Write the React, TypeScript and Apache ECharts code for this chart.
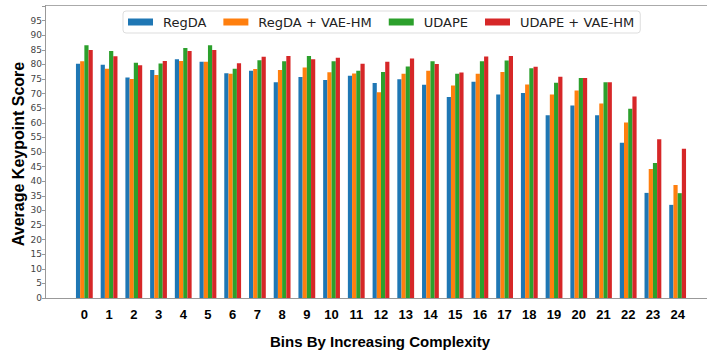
import React, { useEffect, useRef } from "react";
import * as echarts from "echarts";

const categories = ["0","1","2","3","4","5","6","7","8","9","10","11","12","13","14","15","16","17","18","19","20","21","22","23","24"];
const seriesNames = ["RegDA", "RegDA + VAE-HM", "UDAPE", "UDAPE + VAE-HM"];
const regda = [80.2, 79.9, 75.5, 78.1, 81.8, 80.9, 77.0, 77.8, 73.9, 75.7, 74.7, 76.1, 73.6, 74.9, 73.0, 68.8, 74.1, 69.7, 70.2, 62.6, 65.9, 62.6, 53.2, 36.0, 31.9];
const regdaVae = [81.1, 78.5, 75.0, 76.4, 81.2, 80.9, 76.8, 78.4, 78.1, 78.9, 77.3, 76.9, 70.5, 76.8, 77.8, 72.8, 76.8, 77.4, 73.1, 69.7, 71.1, 66.6, 60.1, 44.2, 38.7];
const udape = [86.6, 84.6, 80.6, 80.3, 85.6, 86.6, 78.5, 81.4, 81.1, 82.9, 81.1, 77.8, 77.4, 79.3, 81.1, 76.8, 81.1, 81.3, 78.7, 73.7, 75.3, 73.9, 64.8, 46.2, 35.9];
const udapeVae = [84.9, 82.8, 79.7, 81.2, 84.6, 84.9, 80.4, 82.6, 82.9, 81.8, 82.3, 80.2, 80.9, 82.0, 80.1, 77.2, 82.7, 82.9, 79.2, 75.8, 75.3, 73.9, 69.0, 54.4, 51.1];
const colors = ["#1f77b4", "#ff7f0e", "#2ca02c", "#d62728"];

export default function App() {
  const ref = useRef<HTMLDivElement>(null);
  useEffect(() => {
    document.body.style.margin = "0";
    const chart = echarts.init(ref.current!, null, { renderer: "svg" });
    const values = [regda, regdaVae, udape, udapeVae];
    chart.setOption({
      animation: false,
      backgroundColor: "#fff",
      color: colors,
      grid: { left: 72, right: 17, top: 6, bottom: 52 },
      legend: {
        data: seriesNames,
        left: 123,
        top: 11,
        icon: "rect",
        itemWidth: 25,
        itemHeight: 7,
        itemGap: 17,
        borderColor: "#dddddd",
        borderWidth: 1,
        borderRadius: 3,
        padding: [4, 6, 4, 5],
        textStyle: { fontFamily: "DejaVu Sans", fontSize: 13, color: "#222", padding: [0, 0, 0, 5], lineHeight: 14 },
      },
      xAxis: {
        type: "category",
        data: categories,
        axisLine: { show: false },
        axisTick: { show: false },
        axisLabel: { fontFamily: "Liberation Sans", fontWeight: "bold", fontSize: 13, color: "#000", margin: 10 },
      },
      yAxis: {
        type: "value",
        min: 0,
        max: 100,
        interval: 5,
        offset: 27,
        axisLine: { show: false },
        axisTick: { show: true, length: 3, lineStyle: { color: "#999" } },
        splitLine: { show: false },
        axisLabel: {
          fontFamily: "DejaVu Sans",
          fontSize: 9,
          color: "#444",
          margin: 3,
          formatter: (v: number) => (v >= 100 ? "" : String(v)),
        },
      },
      series: values.map((d, i) => ({
        name: seriesNames[i],
        type: "bar",
        data: d,
        barWidth: 4.2,
        barGap: "0%",
        itemStyle: { color: colors[i] },
      })),
      graphic: [
        { type: "line", shape: { x1: 45, y1: 5.5, x2: 707, y2: 5.5 }, style: { stroke: "#aaa", lineWidth: 1 } },
        { type: "line", shape: { x1: 45.5, y1: 5, x2: 45.5, y2: 298 }, style: { stroke: "#999", lineWidth: 1 } },
        { type: "line", shape: { x1: 45, y1: 298.5, x2: 707, y2: 298.5 }, style: { stroke: "#999", lineWidth: 1 } },
        {
          type: "text",
          x: 380,
          y: 341,
          style: {
            text: "Bins By Increasing Complexity",
            font: "bold 15px 'Liberation Sans'",
            fill: "#000",
            textAlign: "center",
            textVerticalAlign: "middle",
          },
        },
        {
          type: "text",
          x: 18,
          y: 154,
          rotation: Math.PI / 2,
          style: {
            text: "Average Keypoint Score",
            font: "bold 16px 'Liberation Sans'",
            fill: "#000",
            textAlign: "center",
            textVerticalAlign: "middle",
          },
        },
      ],
    });
    return () => chart.dispose();
  }, []);
  return <div ref={ref} style={{ width: 707, height: 350 }} />;
}
